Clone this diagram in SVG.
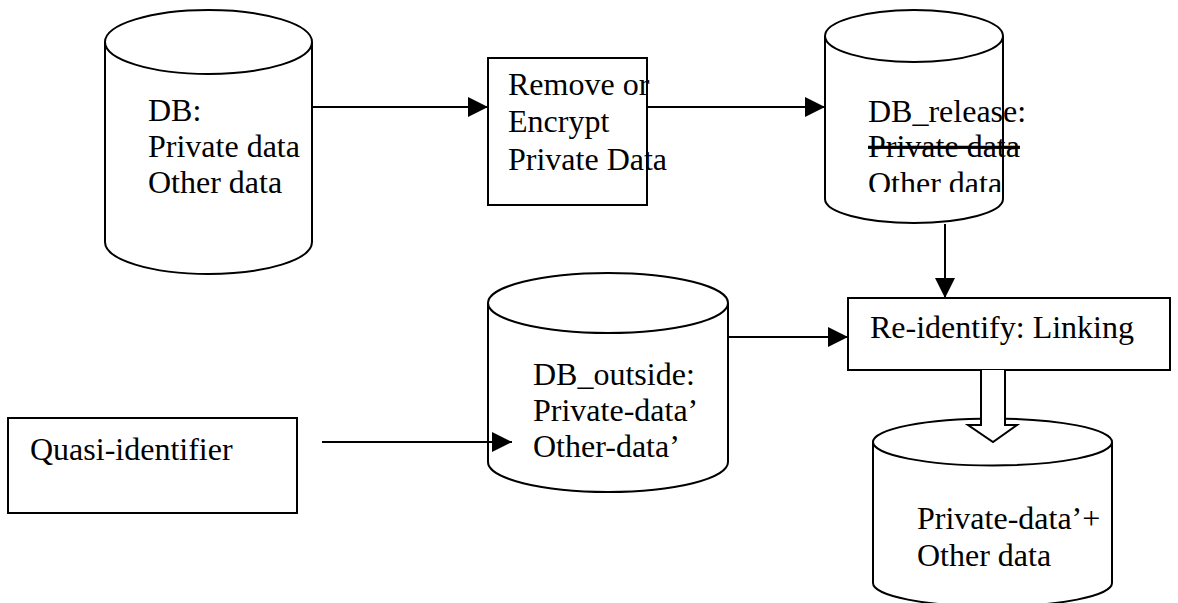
<svg xmlns="http://www.w3.org/2000/svg" width="1178" height="603" viewBox="0 0 1178 603">
<style>
.s{fill:#fff;stroke:#000;stroke-width:2}
.t{font-family:"Liberation Serif","Times New Roman",serif;font-size:32px;fill:#000}
.c{fill:none;stroke:#000;stroke-width:2}
</style>
<defs>
<marker id="ah" markerUnits="userSpaceOnUse" markerWidth="20" markerHeight="20" refX="20" refY="10" orient="auto">
<path d="M0,0 L20,10 L0,20 z" fill="#000"/>
</marker>
<clipPath id="clipRel"><rect x="826" y="60" width="200" height="132"/></clipPath>
</defs>
<rect width="1178" height="603" fill="#fff"/>

<g id="db">
<path class="s" d="M105,42 L105,242 A103.5,32 0 0 0 312,242 L312,42"/>
<ellipse class="s" cx="208.5" cy="42" rx="103.5" ry="32"/>
<text class="t" x="148" y="121">DB:</text>
<text class="t" x="148" y="157">Private data</text>
<text class="t" x="148" y="193">Other data</text>
</g>

<g id="remove">
<rect class="s" x="488" y="58" width="159" height="147"/>
<text class="t" x="508" y="95">Remove or</text>
<text class="t" x="508" y="132">Encrypt</text>
<text class="t" x="508" y="170">Private Data</text>
</g>

<g id="db_release">
<path class="s" d="M825,36 L825,199 A89,24 0 0 0 1003,199 L1003,36"/>
<ellipse class="s" cx="914" cy="36" rx="89" ry="26"/>
<g clip-path="url(#clipRel)">
<text class="t" x="868" y="122">DB_release:</text>
<text class="t" x="868" y="157" text-decoration="line-through">Private data</text>
<text class="t" x="868" y="194">Other data</text>
</g>
</g>

<g id="reidentify">
<rect class="s" x="848" y="298" width="322" height="72"/>
<text class="t" x="870" y="338">Re-identify: Linking</text>
</g>

<g id="db_outside">
<path class="s" d="M488,303 L488,462 A120,30 0 0 0 728,462 L728,303"/>
<ellipse class="s" cx="608" cy="303" rx="120" ry="30"/>
<text class="t" x="533" y="385">DB_outside:</text>
<text class="t" x="533" y="421">Private-data’</text>
<text class="t" x="533" y="457">Other-data’</text>
</g>

<g id="quasi">
<rect class="s" x="8" y="418" width="289" height="95"/>
<text class="t" x="30" y="460">Quasi-identifier</text>
</g>

<g id="result">
<path class="s" d="M873,442 L873,583 A119.5,23.5 0 0 0 1112,583 L1112,442"/>
<ellipse class="s" cx="992.5" cy="442" rx="119.5" ry="23.5"/>
<text class="t" x="917" y="529">Private-data’+</text>
<text class="t" x="917" y="566">Other data</text>
</g>

<g id="connectors">
<line class="c" x1="312" y1="107" x2="488" y2="107" marker-end="url(#ah)"/>
<line class="c" x1="647" y1="107" x2="825" y2="107" marker-end="url(#ah)"/>
<line class="c" x1="945" y1="224" x2="945" y2="298" marker-end="url(#ah)"/>
<line class="c" x1="728" y1="337" x2="848" y2="337" marker-end="url(#ah)"/>
<line class="c" x1="322" y1="442" x2="512" y2="442" marker-end="url(#ah)"/>
<path class="s" d="M981,370 L981,425 L968,425 L993,442 L1017,425 L1005,425 L1005,370"/>
</g>
</svg>
